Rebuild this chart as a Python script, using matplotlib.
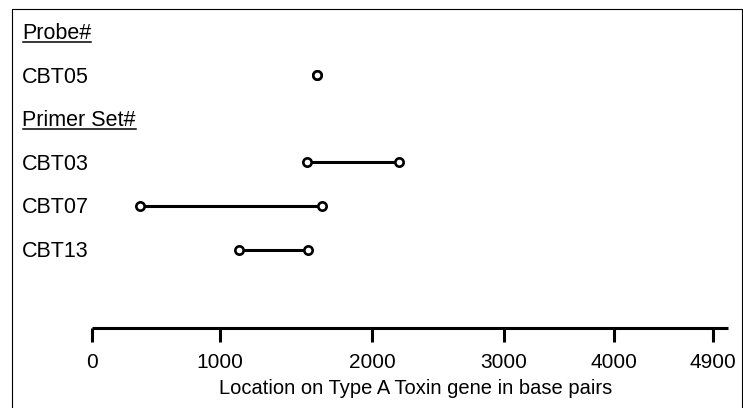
import numpy as np
import matplotlib
matplotlib.use('Agg')
import matplotlib.pyplot as plt
from matplotlib.lines import Line2D
from matplotlib.transforms import blended_transform_factory, offset_copy

plt.rcParams['font.family'] = ['Liberation Sans', 'DejaVu Sans']

# rows, top to bottom
row_labels = ['Probe#', 'CBT05', 'Primer Set#', 'CBT03', 'CBT07', 'CBT13']
header_rows = ['Probe#', 'Primer Set#']

# probe / primer locations on the gene (bp)
names = ['CBT05', 'CBT03', 'CBT07', 'CBT13']
start_bp = [1640, 1575, 375, 1125]
end_bp = [1640, 2205, 1670, 1580]

tick_values = [0, 1000, 2000, 3000, 4000, 4900]
tick_labels = ['0', '1000', '2000', '3000', '4000', '4900']

# the axis in the original is not evenly spaced: pixel spots of each tick
W, H = 743, 408
knot_bp = tick_values + [5036]
knot_px = [92, 220, 372, 504, 614, 713, 728]

def fwd(x):
    return np.interp(x, knot_bp, knot_px)

def inv(p):
    return np.interp(p, knot_px, knot_bp)

row_top, row_step = 31.5, 43.6   # px centre of first row, spacing

fig = plt.figure(figsize=(W / 100, H / 100), dpi=100)
ax = fig.add_axes([knot_px[0] / W, 0, (knot_px[-1] - knot_px[0]) / W, 1])
ax.patch.set_visible(False)
ax.set_xscale('function', functions=(fwd, inv))
ax.set_xlim(knot_bp[0], knot_bp[-1])
ax.set_ylim((H - row_top) / row_step, -row_top / row_step)

for s in ['left', 'right', 'top']:
    ax.spines[s].set_visible(False)
ax.spines['bottom'].set_position(('data', (327.5 - row_top) / row_step))
ax.spines['bottom'].set_linewidth(2.2)
ax.spines['bottom'].set_capstyle('butt')
ax.set_yticks([])
ax.set_xticks(tick_values)
ax.set_xticklabels(tick_labels)
ax.tick_params(axis='x', direction='out', length=10.4, width=2.2, pad=8,
               labelsize=15)
ax.minorticks_off()

for name, a, b in zip(names, start_bp, end_bp):
    r = row_labels.index(name)
    ax.plot([a, b], [r, r], color='black', lw=2.2, solid_capstyle='butt',
            marker='o', ms=6, mfc='white', mec='black', mew=1.9, zorder=3,
            clip_on=False)

trans = blended_transform_factory(fig.transFigure, ax.transData)
trans_base = offset_copy(trans, fig=fig, x=0, y=-7.5 * 0.72, units='points')
texts = []
for r, lab in enumerate(row_labels):
    t = ax.text(22 / W, r, lab, transform=trans_base, ha='left',
                va='baseline', fontsize=15.5, color='black')
    texts.append((r, lab, t))

fig.text(416 / W, 1 - 389 / H, 'Location on Type A Toxin gene in base pairs',
         ha='center', va='center', fontsize=14.5)

# underline the section headers
fig.canvas.draw()
renderer = fig.canvas.get_renderer()
for r, lab, t in texts:
    if lab in header_rows:
        bb = t.get_window_extent(renderer)
        base = trans.transform((0, r))[1] - 7.5
        y = base - 2.5
        fig.add_artist(Line2D([bb.x0 + 1, bb.x1], [y, y], transform=None,
                              color='black', lw=1.1))

# frame around the figure
fig.add_artist(Line2D([12 / W, 12 / W, 741.5 / W, 741.5 / W],
                      [0, 1 - 8.5 / H, 1 - 8.5 / H, 0],
                      transform=fig.transFigure, color='black', lw=0.8))

fig.savefig('out.png', dpi=100)
